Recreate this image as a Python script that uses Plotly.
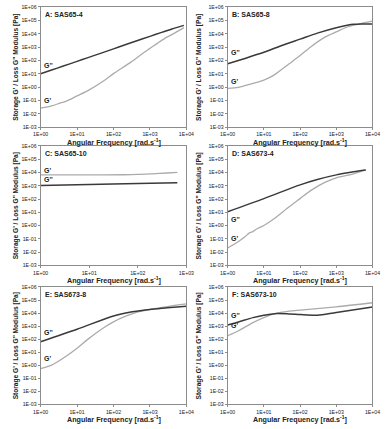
import plotly.graph_objects as go

# ---------------- data ----------------
panel_titles = ["A: SAS65-4", "B: SAS65-8", "C: SAS65-10", "D: SAS673-4", "E: SAS673-8", "F: SAS673-10"]

# Panel A
A_freq_Gpp = [1, 2, 4, 10, 20, 40, 100, 200, 400, 1000, 2000, 4000, 8500]
A_Gpp = [10, 19, 36, 85, 162, 309, 724, 1410, 2690, 6310, 12000, 22400, 41700]
A_freq_Gp = [1, 2, 3.4, 4.5, 6, 10, 21, 57, 100, 300, 700, 1000, 2200, 5000, 8500]
A_Gp = [0.027, 0.040, 0.063, 0.079, 0.11, 0.22, 0.60, 3.3, 10.2, 74, 407, 794, 3470, 12000, 28200]

# Panel B
B_freq_Gpp = [1, 3, 10, 30, 100, 300, 1000, 2000, 3000, 5000, 10000]
B_Gpp = [56, 141, 407, 1260, 3890, 11000, 28000, 42000, 50000, 53000, 53000]
B_freq_Gp = [1, 2, 5, 10, 20, 50, 100, 200, 500, 1000, 2000, 5000, 10000]
B_Gp = [0.8, 0.95, 1.9, 3.3, 8.7, 56, 229, 1070, 5750, 13500, 31600, 58900, 87000]

# Panel C
C_freq_Gp = [1, 10, 50, 100, 200, 400, 650]
C_Gp = [6600, 6600, 6760, 7080, 7940, 9120, 10200]
C_freq_Gpp = [1, 10, 100, 650]
C_Gpp = [1050, 1260, 1480, 1660]

# Panel D
D_freq_Gpp = [1, 10, 100, 300, 1000, 3000, 6500]
D_Gpp = [11, 107, 1170, 2950, 6600, 11200, 15500]
D_freq_Gp = [1, 2, 3, 4, 5, 6, 10, 20, 50, 100, 200, 500, 1000, 3000, 6500]
D_Gp = [0.020, 0.063, 0.14, 0.28, 0.35, 0.50, 1.0, 3.5, 26, 107, 447, 1860, 3890, 7760, 15500]

# Panel E
E_freq_Gpp = [1, 10, 100, 300, 600, 1000, 3000, 10000]
E_Gpp = [63, 575, 6030, 12000, 15800, 19000, 25100, 33900]
E_freq_Gp = [1, 2, 5, 10, 20, 50, 100, 200, 500, 1000, 3000, 10000]
E_Gp = [0.54, 1.0, 4.9, 20, 100, 660, 2090, 5250, 12600, 19000, 31600, 50000]

# Panel F
F_freq_Gpp = [1, 2, 5, 10, 20, 50, 100, 300, 1000, 10000]
F_Gpp = [1230, 2090, 4470, 6760, 9000, 8500, 7600, 6760, 11200, 28800]
F_freq_Gp = [1, 2, 5, 10, 20, 50, 100, 1000, 10000]
F_Gp = [182, 437, 1860, 4470, 9000, 14100, 17000, 30200, 61700]

y_tick_vals = [1e-3, 1e-2, 1e-1, 1e0, 1e1, 1e2, 1e3, 1e4, 1e5, 1e6]
y_tick_text = ["1E-03", "1E-02", "1E-01", "1E+00", "1E+01", "1E+02", "1E+03", "1E+04", "1E+05", "1E+06"]
x_tick_vals = [1e0, 1e1, 1e2, 1e3, 1e4]
x_tick_text = ["1E+00", "1E+01", "1E+02", "1E+03", "1E+04"]

# label heights (log10 of modulus) for the G' / G'' text labels
label_Gpp = [1.63, 2.56, 3.45, 0.42, 2.51, 3.83]
label_Gp = [-1.03, 0.40, 4.14, -1.00, 0.54, 3.02]

panels = [
    (A_freq_Gp, A_Gp, A_freq_Gpp, A_Gpp, 4),
    (B_freq_Gp, B_Gp, B_freq_Gpp, B_Gpp, 4),
    (C_freq_Gp, C_Gp, C_freq_Gpp, C_Gpp, 3),
    (D_freq_Gp, D_Gp, D_freq_Gpp, D_Gpp, 4),
    (E_freq_Gp, E_Gp, E_freq_Gpp, E_Gpp, 4),
    (F_freq_Gp, F_Gp, F_freq_Gpp, F_Gpp, 4),
]

# ---------------- layout ----------------
W, H = 392, 429
col_px = [(34, 186), (229, 380)]
ytitle_px = [8, 199]
row_px = [(4, 126), (145, 266), (288, 407)]

FONT = "Liberation Sans, Arial, sans-serif"
DARK = "#3a3a3a"
LIGHT = "#ababab"
AXC = "#8c8c8c"
TXT = "#222222"

fig = go.Figure()
layout = dict(width=W, height=H, margin=dict(l=0, r=0, t=0, b=0),
              paper_bgcolor="white", plot_bgcolor="white", showlegend=False,
              font=dict(family=FONT, size=5, color=TXT))
annotations = []

for i, (fgp, gp, fgpp, gpp, xdec) in enumerate(panels):
    r, c = divmod(i, 2)
    x0, x1 = col_px[c]
    y0, y1 = row_px[r]
    n = "" if i == 0 else str(i + 1)
    xa, ya = "x" + n, "y" + n
    fig.add_trace(go.Scatter(x=fgp, y=gp, mode="lines", xaxis=xa, yaxis=ya,
                             line=dict(color=LIGHT, width=1.3, shape="spline", smoothing=0.8),
                             hoverinfo="skip"))
    fig.add_trace(go.Scatter(x=fgpp, y=gpp, mode="lines", xaxis=xa, yaxis=ya,
                             line=dict(color=DARK, width=1.5, shape="spline", smoothing=0.8),
                             hoverinfo="skip"))
    layout["xaxis" + n] = dict(
        type="log", range=[0, xdec], domain=[x0 / W, x1 / W], anchor=ya,
        tickvals=x_tick_vals[:xdec + 1], ticktext=x_tick_text[:xdec + 1],
        showgrid=False, zeroline=False, showline=True, linecolor=AXC, linewidth=1,
        mirror=True, ticks="outside", ticklen=2, tickcolor=AXC,
        tickfont=dict(family=FONT, size=5.2, color=TXT), fixedrange=True)
    layout["yaxis" + n] = dict(
        type="log", range=[-3, 6], domain=[1 - y1 / H, 1 - y0 / H], anchor=xa,
        tickvals=y_tick_vals, ticktext=y_tick_text,
        showgrid=False, zeroline=False, showline=True, linecolor=AXC, linewidth=1,
        mirror=True, ticks="outside", ticklen=2, tickcolor=AXC,
        tickfont=dict(family=FONT, size=5.2, color=TXT), fixedrange=True)
    # panel title
    annotations.append(dict(text="<b>" + panel_titles[i] + "</b>", xref="paper", yref="paper",
                            x=(x0 + 2) / W, y=1 - (y0 + 8) / H, xanchor="left", yanchor="middle",
                            showarrow=False, font=dict(family=FONT, size=7, color=TXT)))
    # curve labels
    annotations.append(dict(text="<b>G''</b>", xref=xa, yref=ya, x=0.03, y=label_Gpp[i],
                            xanchor="left", yanchor="middle", showarrow=False,
                            font=dict(family=FONT, size=7, color=TXT)))
    annotations.append(dict(text="<b>G'</b>", xref=xa, yref=ya, x=0.03, y=label_Gp[i],
                            xanchor="left", yanchor="middle", showarrow=False,
                            font=dict(family=FONT, size=7, color=TXT)))
    # axis titles
    annotations.append(dict(text="<b>Angular Frequency [rad.s<sup>-1</sup>]</b>", xref="paper", yref="paper",
                            x=(x0 + x1) / 2 / W, y=1 - (y1 + 14.5) / H, xanchor="center", yanchor="middle",
                            showarrow=False, font=dict(family=FONT, size=7.2, color=TXT)))
    annotations.append(dict(text="<b>Storage G' / Loss G'' Modulus [Pa]</b>", xref="paper", yref="paper",
                            x=ytitle_px[c] / W, y=1 - (y0 + y1) / 2 / H, xanchor="center", yanchor="middle",
                            textangle=-90, showarrow=False, font=dict(family=FONT, size=6.6, color=TXT)))

layout["annotations"] = annotations
fig.update_layout(**layout)
fig.write_html("out.html",
               config={"displayModeBar": False, "staticPlot": True},
               post_script="document.body.style.margin='0';document.body.style.padding='0';"
                           "document.documentElement.style.overflow='hidden';"
                           "document.body.style.overflow='hidden';")
